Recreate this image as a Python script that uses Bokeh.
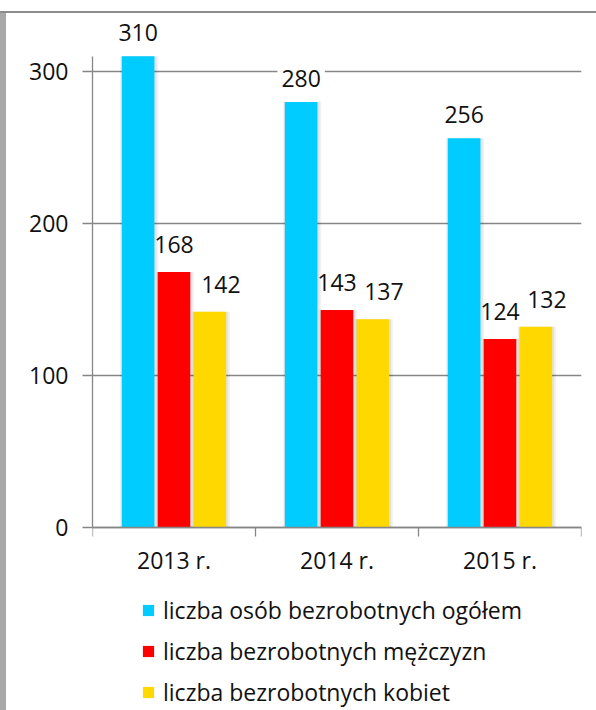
from bokeh.plotting import figure
from bokeh.models import ColumnDataSource, Range1d, FixedTicker, LabelSet, Legend, LegendItem
from bokeh.transform import dodge
from bokeh.core.properties import value
from bokeh.embed import file_html
from bokeh.resources import INLINE

# ---- data ----
years = ["2013 r.", "2014 r.", "2015 r."]
ogolem = [310, 280, 256]
mezczyzn = [168, 143, 124]
kobiet = [142, 137, 132]
series_names = [
    "liczba osób bezrobotnych ogółem",
    "liczba bezrobotnych mężczyzn",
    "liczba bezrobotnych kobiet",
]
y_ticks = [0, 100, 200, 300]

# ---- styles ----
colors = ["#00CCFF", "#FF0000", "#FFD800"]
FONT = "Open Sans"
FS = "23px"
AXIS_C = "#868686"

xs = [i + 0.5 for i in range(len(years))]
src = ColumnDataSource(dict(
    x=xs,
    ogolem=ogolem, mezczyzn=mezczyzn, kobiet=kobiet,
    ogolem_t=[str(v) for v in ogolem],
    mezczyzn_t=[str(v) for v in mezczyzn],
    kobiet_t=[str(v) for v in kobiet],
))

# frame spans below the x axis so that the legend can sit inside it
p = figure(width=596, height=710, output_backend="svg", toolbar_location=None,
           x_range=Range1d(0, len(years)), y_range=Range1d(-120.4, 338.8),
           min_border_left=92, min_border_right=15, min_border_top=12, min_border_bottom=0,
           outline_line_color=None, background_fill_alpha=0, border_fill_alpha=0)
p.styles = {"box-shadow": "inset 0 11px 0 0 white, inset 0 13px 0 0 #8c8c8c, inset 6px 0 0 0 #a8a8a8"}

# axes
xa = p.xaxis[0]
xa.fixed_location = 0
xa.ticker = FixedTicker(ticks=xs, minor_ticks=list(range(len(years) + 1)))
xa.major_label_overrides = {x: y for x, y in zip(xs, years)}
xa.major_tick_line_color = None
xa.major_tick_out = 0
xa.major_tick_in = 0
xa.minor_tick_out = 9
xa.minor_tick_in = 0
xa.minor_tick_line_color = AXIS_C
xa.minor_tick_line_width = 1.3
xa.axis_line_color = AXIS_C
xa.axis_line_width = 1.3
xa.major_label_text_font = FONT
xa.major_label_text_font_size = FS
xa.major_label_text_color = "#111111"
xa.major_label_standoff = 8

ya = p.yaxis[0]
ya.bounds = (0, 310)
ya.ticker = FixedTicker(ticks=y_ticks)
ya.major_tick_out = 10
ya.major_tick_in = 0
ya.minor_tick_line_color = None
ya.major_tick_line_color = AXIS_C
ya.major_tick_line_width = 1.3
ya.axis_line_color = AXIS_C
ya.axis_line_width = 1.3
ya.major_label_text_font = FONT
ya.major_label_text_font_size = FS
ya.major_label_text_color = "#111111"
ya.major_label_standoff = 14

p.xgrid.visible = False
p.ygrid.ticker = FixedTicker(ticks=y_ticks)
p.ygrid.grid_line_color = AXIS_C
p.ygrid.grid_line_width = 1.3

offsets = [-0.22, 0.0, 0.22]
fields = ["ogolem", "mezczyzn", "kobiet"]
label_dy = [15, 19, 19]
label_dx = [0, 0, 11]
bw = 0.2

renderers = []
for f, off, c, dy, dx in zip(fields, offsets, colors, label_dy, label_dx):
    # soft shadow
    p.vbar(x=dodge("x", off + 0.006, range=p.x_range), top=f, width=bw + 0.035, source=src,
           fill_color="black", fill_alpha=0.05, line_color=None)
    p.vbar(x=dodge("x", off + 0.004, range=p.x_range), top=f, width=bw + 0.018, source=src,
           fill_color="black", fill_alpha=0.06, line_color=None)
    r = p.vbar(x=dodge("x", off, range=p.x_range), top=f, width=bw, source=src,
               fill_color=c, line_color=None)
    renderers.append(r)
    lab = LabelSet(x=dodge("x", off, range=p.x_range), y=f, text=f + "_t", source=src,
                   x_offset=dx, y_offset=dy, text_align="center", text_baseline="alphabetic",
                   text_font=value(FONT), text_font_size=FS, text_color="#111111")
    if f == "ogolem":
        lab.background_fill_color = "white"
        lab.border_line_color = "white"
        lab.border_line_width = 8
    p.add_layout(lab)

legend = Legend(items=[LegendItem(label=n, renderers=[r]) for n, r in zip(series_names, renderers)],
                location=(49, 2), orientation="vertical",
                glyph_width=14, glyph_height=14, label_standoff=8,
                label_text_font=FONT, label_text_font_size=FS, label_text_color="#111111",
                label_height=22, spacing=9, padding=0, margin=0,
                border_line_color=None, background_fill_alpha=0)
p.add_layout(legend)

open("out.html", "w").write(file_html(p, INLINE))
